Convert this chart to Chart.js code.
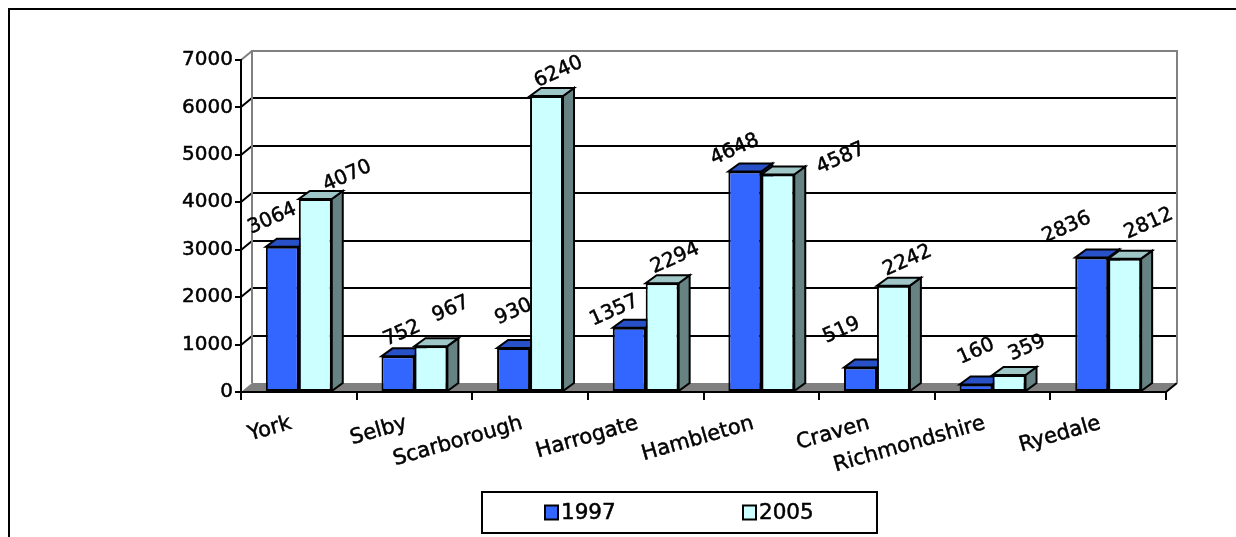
<!DOCTYPE html>
<html>
<head>
<meta charset="utf-8">
<script src="https://cdn.jsdelivr.net/npm/chart.js@4/dist/chart.umd.min.js"></script>
<style>
  html, body { margin: 0; padding: 0; background: #ffffff; }
  canvas { display: block; }
</style>
</head>
<body>
<canvas id="chart" width="1236" height="537"></canvas>
<script>
// Districts and their totals for the two survey years
const categories = ['York', 'Selby', 'Scarborough', 'Harrogate', 'Hambleton', 'Craven', 'Richmondshire', 'Ryedale'];
const values1997 = [3064, 752, 930, 1357, 4648, 519, 160, 2836];
const values2005 = [4070, 967, 6240, 2294, 4587, 2242, 359, 2812];
const seriesNames = ['1997', '2005'];
const yTickStep = 1000;
const yMax = 7000;

// Where each value label sits relative to the top centre of its bar (px)
const labelShift1997 = [[-10, -28], [4, -23], [0, -36], [-15, -17], [-10, -22], [-19, -37], [0, -33], [-25, -30]];
const labelShift2005 = [[32, -23], [20, -37], [12, -24], [13, -25], [63, -16], [14, -25], [18, -27], [24, -35]];

const FONT = '"DejaVu Sans", Verdana, sans-serif';
const FONT_SIZE = 20;
const TEXT_STROKE = 0.5;           // slight weight added to all text
const BAR_DX = 11, BAR_DY = 8;     // bar depth
const WALL_DX = 11, WALL_DY = 9;   // wall / floor depth
const COLORS = {
  '1997': { front: '#3366FF', top: '#2850C7', side: '#1A3380' },
  '2005': { front: '#CCFFFF', top: '#9FC7C7', side: '#668282' }
};

function poly(ctx, pts) {
  ctx.beginPath();
  ctx.moveTo(pts[0][0], pts[0][1]);
  for (let i = 1; i < pts.length; i++) ctx.lineTo(pts[i][0], pts[i][1]);
  ctx.closePath();
}

function heavyText(ctx, text, x, y) {
  ctx.fillText(text, x, y);
  ctx.strokeText(text, x, y);
}

// Outer frame, floor, back wall and gridlines
const backdrop = {
  id: 'backdrop',
  beforeDraw(chart) {
    const { ctx, chartArea: a, scales: { y } } = chart;
    const L = a.left, R = a.right, T = Math.round(a.top), B = Math.round(a.bottom);
    ctx.save();
    ctx.lineWidth = 2;
    ctx.strokeStyle = '#000';
    ctx.beginPath();
    ctx.moveTo(9, chart.height);
    ctx.lineTo(9, 9);
    ctx.lineTo(chart.width, 9);
    ctx.stroke();

    // floor
    ctx.fillStyle = '#808080';
    poly(ctx, [[L, B], [R, B], [R + WALL_DX, B - WALL_DY], [L + WALL_DX, B - WALL_DY]]);
    ctx.fill();
    ctx.strokeStyle = '#000';
    ctx.beginPath();
    ctx.moveTo(R, B);
    ctx.lineTo(R + WALL_DX, B - WALL_DY);
    ctx.stroke();

    // gridlines on the back wall
    ctx.strokeStyle = '#000';
    y.ticks.forEach(t => {
      if (t.value <= y.min || t.value >= y.max) return;
      const py = Math.round(y.getPixelForValue(t.value));
      ctx.beginPath();
      ctx.moveTo(L, py);
      ctx.lineTo(L + WALL_DX, py - WALL_DY);
      ctx.lineTo(R + WALL_DX, py - WALL_DY);
      ctx.stroke();
    });

    // back wall outline
    ctx.strokeStyle = '#808080';
    ctx.beginPath();
    ctx.moveTo(L + WALL_DX, B - WALL_DY);
    ctx.lineTo(L + WALL_DX, T - WALL_DY);
    ctx.lineTo(R + WALL_DX, T - WALL_DY);
    ctx.lineTo(R + WALL_DX, B - WALL_DY);
    ctx.stroke();
    ctx.beginPath();
    ctx.moveTo(L, T);
    ctx.lineTo(L + WALL_DX, T - WALL_DY);
    ctx.stroke();
    ctx.restore();
  }
};

// Top and side faces of every column
const columnDepth = {
  id: 'columnDepth',
  beforeDatasetsDraw(chart) {
    const ctx = chart.ctx;
    ctx.save();
    ctx.lineWidth = 2;
    ctx.strokeStyle = '#000';
    ctx.lineJoin = 'miter';
    chart.data.datasets.forEach((ds, d) => {
      const shade = COLORS[ds.label];
      chart.getDatasetMeta(d).data.forEach(bar => {
        const { x, y, base, width } = bar.getProps(['x', 'y', 'base', 'width'], true);
        const l = x - width / 2, r = x + width / 2;
        ctx.fillStyle = shade.side;
        poly(ctx, [[r, y], [r + BAR_DX, y - BAR_DY], [r + BAR_DX, base - BAR_DY], [r, base]]);
        ctx.fill(); ctx.stroke();
        ctx.fillStyle = shade.top;
        poly(ctx, [[l, y], [r, y], [r + BAR_DX, y - BAR_DY], [l + BAR_DX, y - BAR_DY]]);
        ctx.fill(); ctx.stroke();
      });
    });
    ctx.restore();
  }
};

// Rotated value labels above the columns
const valueLabels = {
  id: 'valueLabels',
  afterDatasetsDraw(chart) {
    const ctx = chart.ctx;
    const shifts = [labelShift1997, labelShift2005];
    ctx.save();
    ctx.font = FONT_SIZE + 'px ' + FONT;
    ctx.fillStyle = '#000';
    ctx.strokeStyle = '#000';
    ctx.lineWidth = TEXT_STROKE;
    ctx.textAlign = 'center';
    ctx.textBaseline = 'middle';
    chart.data.datasets.forEach((ds, d) => {
      chart.getDatasetMeta(d).data.forEach((bar, i) => {
        const { x, y } = bar.getProps(['x', 'y'], true);
        const [sx, sy] = shifts[d][i];
        ctx.save();
        ctx.translate(x + sx, y + sy);
        ctx.rotate(-24 * Math.PI / 180);
        heavyText(ctx, String(ds.data[i]), 0, 0);
        ctx.restore();
      });
    });
    ctx.restore();
  }
};

// Boxed legend under the plot
const boxedLegend = {
  id: 'boxedLegend',
  afterDraw(chart) {
    const ctx = chart.ctx;
    const box = { x: 482, y: 492, w: 395, h: 41 };
    const itemX = [545, 743];
    ctx.save();
    ctx.lineWidth = 2;
    ctx.strokeStyle = '#000';
    ctx.strokeRect(box.x, box.y, box.w, box.h);
    const cy = box.y + box.h / 2;
    chart.data.datasets.forEach((ds, d) => {
      ctx.lineWidth = 2;
      ctx.fillStyle = ds.backgroundColor;
      ctx.fillRect(itemX[d], cy - 7, 13, 14);
      ctx.strokeRect(itemX[d], cy - 7, 13, 14);
      ctx.font = '21.5px ' + FONT;
      ctx.textBaseline = 'middle';
      ctx.textAlign = 'left';
      ctx.fillStyle = '#000';
      ctx.lineWidth = TEXT_STROKE;
      heavyText(ctx, ds.label, itemX[d] + 16, cy + 1);
    });
    ctx.restore();
  }
};

new Chart(document.getElementById('chart'), {
  type: 'bar',
  data: {
    labels: categories,
    datasets: [
      { label: seriesNames[0], data: values1997, backgroundColor: COLORS['1997'].front },
      { label: seriesNames[1], data: values2005, backgroundColor: COLORS['2005'].front }
    ]
  },
  options: {
    responsive: false,
    devicePixelRatio: 1,
    animation: false,
    layout: { padding: { top: 60, right: 70, left: 0, bottom: 0 } },
    datasets: {
      bar: {
        borderColor: '#000',
        borderWidth: 2,
        borderSkipped: false,
        categoryPercentage: 0.57,
        barPercentage: 1.0
      }
    },
    plugins: {
      legend: { display: false },
      tooltip: { enabled: false }
    },
    scales: {
      x: {
        offset: true,
        grid: { offset: true, drawOnChartArea: false, tickLength: 8, color: '#000', lineWidth: 2 },
        border: { display: true, color: '#000', width: 2 },
        ticks: {
          font: { family: FONT, size: 21 }, color: '#000',
          textStrokeColor: '#000', textStrokeWidth: TEXT_STROKE,
          minRotation: 16, maxRotation: 16, autoSkip: false, padding: 11, labelOffset: -8
        },
        afterFit(scale) { scale.height = 145; }
      },
      y: {
        min: 0,
        max: yMax,
        grid: { drawOnChartArea: false, tickLength: 6, color: '#000', lineWidth: 2 },
        border: { display: true, color: '#000', width: 2 },
        ticks: {
          stepSize: yTickStep, font: { family: FONT, size: FONT_SIZE }, color: '#000', padding: 2,
          textStrokeColor: '#000', textStrokeWidth: TEXT_STROKE,
          callback: v => String(v)
        },
        afterFit(scale) { scale.width = 241; }
      }
    }
  },
  plugins: [backdrop, columnDepth, valueLabels, boxedLegend]
});
</script>
</body>
</html>
